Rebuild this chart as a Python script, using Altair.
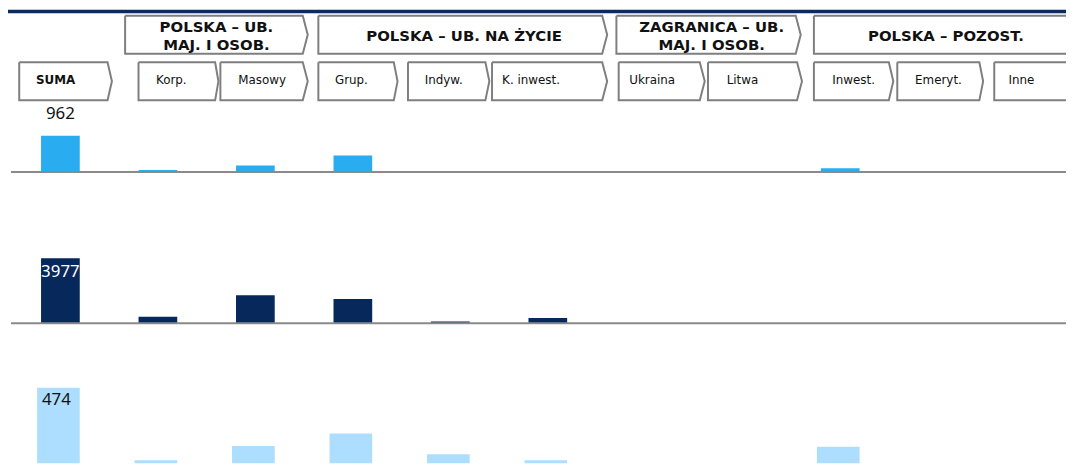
import altair as alt
import pandas as pd

# ---------------- data ----------------
categories = ["SUMA", "Korp.", "Masowy", "Grup.", "Indyw.", "K. inwest.",
              "Ukraina", "Litwa", "Inwest.", "Emeryt.", "Inne"]
row1_values = [962, 55, 170, 435, -20, -5, -5, -5, 100, -25, -25]
row2_values = [3977, 400, 1720, 1480, 110, 330, -10, -30, 0, 0, -30]
row3_values = [474, 81, 158, 226, 113, 81, 20, 15, 155, 10, 20]
group_labels = ["POLSKA – UB.\nMAJ. I OSOB.", "POLSKA – UB. NA ŻYCIE",
                "ZAGRANICA – UB.\nMAJ. I OSOB.", "POLSKA – POZOST."]

# ---------------- layout (pixels inside the chart) ----------------
W = 1066
C0, STEP = 52.8, 98.22           # first bar centre and bar spacing
HALF = 0.1985                     # half bar width in category units
XDOM = [(0 - C0) / STEP, (W - C0) / STEP]
HEADER_H = 97

group_boxes = [(118, 297, 302), (312.7, 598.7, 603.7), (613, 793.7, 798.7), (812, W + 20, W + 25)]
group_y = (6, 44.3)
group_text = [(210, 17), (459.5, 27), (709, 17), (945, 27)]

cat_boxes = [(11.3, 100.3, 104.7), (131.5, 208.7, 212), (214, 297, 302), (312.7, 388.7, 392.5),
             (403, 481, 485), (487.7, 598.7, 603.7), (615.3, 697, 702), (705.3, 795, 800),
             (812, 887.5, 892), (896, 978.7, 982.5), (993.7, W + 20, W + 25)]
cat_y = (53, 91.3)
cat_text_x = [48, 164.5, 256, 346, 439, 527, 649, 740, 852, 937.5, 1021]
cat_text_y = 71.2

BORDER = "#7f7f7f"

# ---------------- header panel ----------------
pts = []
def add_box(bid, x0, x1, tip, y0, y1):
    ym = (y0 + y1) / 2
    poly = [(x0, y0), (x1, y0), (tip, ym), (x1, y1), (x0, y1), (x0, y0)]
    for k, (px, py) in enumerate(poly):
        pts.append({"bid": bid, "o": k, "px": px, "py": py})

for i, (x0, x1, tip) in enumerate(group_boxes):
    add_box(f"g{i}", x0, x1, tip, *group_y)
for i, (x0, x1, tip) in enumerate(cat_boxes):
    add_box(f"c{i}", x0, x1, tip, *cat_y)
box_df = pd.DataFrame(pts)

hx = alt.Scale(domain=[0, W], nice=False, zero=False)
hy = alt.Scale(domain=[HEADER_H, 0], nice=False, zero=False)

one = pd.DataFrame({"a": [0]})
band = alt.Chart(one).mark_rect(color="#0b2b5c").encode(
    x=alt.X(datum=0, scale=hx, axis=None), x2=alt.datum(W),
    y=alt.Y(datum=0, scale=hy, axis=None), y2=alt.datum(3.5))

boxes = alt.Chart(box_df).mark_line(color=BORDER, strokeWidth=2, clip=True, strokeJoin="miter").encode(
    x=alt.X("px:Q", scale=hx, axis=None),
    y=alt.Y("py:Q", scale=hy, axis=None),
    detail="bid:N", order="o:Q")

gdf = pd.DataFrame({"t": group_labels,
                    "tx": [p[0] for p in group_text],
                    "ty": [p[1] for p in group_text]})
gtext = alt.Chart(gdf).mark_text(font="DejaVu Sans", fontWeight="bold", fontSize=15,
                                 lineBreak="\n", lineHeight=18.5, color="#111111",
                                 baseline="middle", align="center").encode(
    x=alt.X("tx:Q", scale=hx, axis=None), y=alt.Y("ty:Q", scale=hy, axis=None), text="t:N")

cdf = pd.DataFrame({"t": categories, "tx": cat_text_x, "ty": [cat_text_y] * len(categories),
                    "w": ["bold"] + ["normal"] * (len(categories) - 1)})
ctext_b = alt.Chart(cdf).transform_filter(alt.datum.w == "bold").mark_text(
    font="DejaVu Sans", fontWeight="bold", fontSize=12, color="#111111", baseline="middle").encode(
    x=alt.X("tx:Q", scale=hx, axis=None), y=alt.Y("ty:Q", scale=hy, axis=None), text="t:N")
ctext_n = alt.Chart(cdf).transform_filter(alt.datum.w == "normal").mark_text(
    font="DejaVu Sans", fontSize=12, color="#111111", baseline="middle").encode(
    x=alt.X("tx:Q", scale=hx, axis=None), y=alt.Y("ty:Q", scale=hy, axis=None), text="t:N")

header = alt.layer(band, boxes, gtext, ctext_b, ctext_n).properties(width=W, height=HEADER_H)

# ---------------- bar rows ----------------
df = pd.DataFrame({"cat": categories, "idx": list(range(len(categories))),
                   "v1": row1_values, "v2": row2_values, "v3": row3_values})
df["x0"] = df["idx"] - HALF
df["x1"] = df["idx"] + HALF


def row_panel(field, color, height, zero_px, upp, label_color, label_dy, shift):
    ydom = [-(height - zero_px) * upp, zero_px * upp]
    xs = alt.Scale(domain=XDOM, nice=False, zero=False)
    ys = alt.Scale(domain=ydom, nice=False, zero=False)
    base = alt.Chart(df)
    bars = base.mark_bar(color=color, clip=True, xOffset=shift).encode(
        x=alt.X("x0:Q", scale=xs, axis=None), x2="x1:Q",
        y=alt.Y(f"{field}:Q", scale=ys, axis=None), y2=alt.datum(0))
    rule = alt.Chart(one).mark_rule(color="#8a8a8a", strokeWidth=2, clip=True).encode(
        x=alt.X(datum=(3 - C0) / STEP, scale=xs, axis=None), x2=alt.datum(XDOM[1]),
        y=alt.Y(datum=0, scale=ys, axis=None))
    label = base.transform_filter(alt.datum.cat == "SUMA").mark_text(
        font="Noto Sans", fontSize=17, color=label_color, dy=label_dy, xOffset=shift,
        baseline="middle", align="center").encode(
        x=alt.X("idx:Q", scale=xs, axis=None),
        y=alt.Y(f"{field}:Q", scale=ys, axis=None),
        text=alt.Text(f"{field}:Q", format="d"))
    return alt.layer(bars, rule, label).properties(width=W, height=height)


row1 = row_panel("v1", "#2aadf0", 143, 66.5, 962 / 36.5, "#111111", -21.7, 0)
row2 = row_panel("v2", "#06285a", 132, 76, 3977 / 65.7, "#ffffff", 13.7, 0)
row3 = row_panel("v3", "#addeff", 85, 97, 474 / 88, "#111111", 12.7, -4)

chart = alt.vconcat(header, row1, row2, row3, spacing=0, bounds="flush").resolve_scale(
    x="independent", y="independent").properties(padding=0).configure_view(stroke=None)

chart.save("out.html", embed_options={"renderer": "svg", "actions": False})
